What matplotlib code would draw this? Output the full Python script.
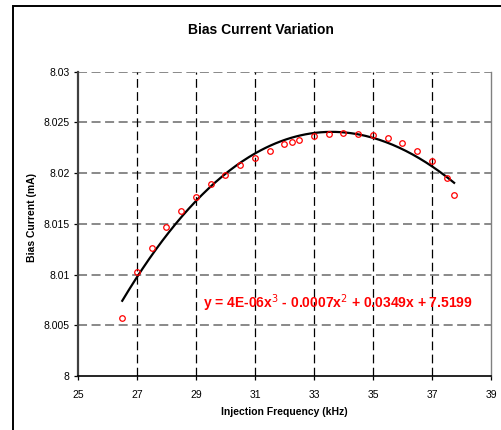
import numpy as np
import matplotlib
matplotlib.use("Agg")
import matplotlib.pyplot as plt
from matplotlib.patches import Rectangle

plt.rcParams['font.family'] = ['Liberation Sans', 'DejaVu Sans']

# measured points (kHz, mA)
freq_khz = [26.5, 27, 27.5, 28, 28.5, 29, 29.5, 30, 30.5, 31, 31.5, 32,
            32.25, 32.5, 33, 33.5, 34, 34.5, 35, 35.5, 36, 36.5, 37, 37.5, 37.75]
bias_ma = [8.0057, 8.0103, 8.0126, 8.0147, 8.0163, 8.0176, 8.0189, 8.0198,
           8.0208, 8.0215, 8.0222, 8.0229, 8.0231, 8.0233, 8.0237, 8.0239,
           8.0240, 8.0239, 8.0238, 8.0235, 8.0230, 8.0222, 8.0212, 8.0195, 8.0178]

x_ticks = [25, 27, 29, 31, 33, 35, 37, 39]
y_ticks = [8.0, 8.005, 8.01, 8.015, 8.02, 8.025, 8.03]
equation = r"y = 4E-06x$^3$ - 0.0007x$^2$ + 0.0349x + 7.5199"

W, H = 502, 430
fig = plt.figure(figsize=(W / 100, H / 100), dpi=100)

# outer chart border (cut off on right/bottom like the screenshot)
fig.patches.append(Rectangle((13 / W, -0.1), 1.2, 1.1 - 6.7 / H + 0.001,
                             transform=fig.transFigure, fill=False,
                             edgecolor="black", linewidth=1.4))

ax = fig.add_axes([78 / W, 1 - 376 / H, (491 - 78) / W, (376 - 71.7) / H])

# third order trendline, fitted like the spreadsheet did
coef = np.polyfit(freq_khz, bias_ma, 3)
xs = np.linspace(min(freq_khz), max(freq_khz), 200)
ax.plot(xs, np.polyval(coef, xs), color="black", linewidth=1.6, zorder=4)

ax.plot(freq_khz, bias_ma, linestyle="none", marker="o", markersize=4,
        markerfacecolor="none", markeredgecolor="red", markeredgewidth=0.9,
        zorder=5)

ax.set_xlim(25, 39)
ax.set_ylim(8.0, 8.03)
ax.set_xticks(x_ticks)
ax.set_yticks(y_ticks)
ax.set_yticklabels([f"{v:g}" for v in y_ticks])

# grid: gray dashes horizontal, black dashes vertical
for v in y_ticks[1:]:
    ax.axhline(v, color="#808080", linewidth=1.3, dashes=(5, 2.5), zorder=1)
for v in x_ticks[1:-1]:
    ax.axvline(v, color="black", linewidth=0.9, dashes=(7, 3.5), zorder=1)

ax.spines["top"].set_visible(False)
ax.spines["right"].set_color("#808080")
ax.spines["right"].set_linewidth(1.0)
ax.spines["left"].set_color("#404040")
ax.spines["left"].set_linewidth(1.6)
ax.spines["bottom"].set_color("black")
ax.spines["bottom"].set_linewidth(1.2)

ax.tick_params(axis="both", direction="out", length=3, width=0.9,
               labelsize=7.5, colors="black")
ax.tick_params(axis="x", pad=7)
ax.tick_params(axis="y", pad=3)

ax.text(338 / W, 1 - 303 / H, equation, transform=fig.transFigure,
        ha="center", va="center", color="red", fontsize=10,
        fontweight="bold")

fig.text(261 / W, 1 - 30 / H, "Bias Current Variation", ha="center",
         va="center", fontsize=10, fontweight="bold")
fig.text(284.5 / W, 1 - 411.7 / H, "Injection Frequency (kHz)", ha="center",
         va="center", fontsize=7.5, fontweight="bold")
fig.text(32 / W, 1 - 218 / H, "Bias Current (mA)", ha="center", va="center",
         rotation=90, fontsize=7.5, fontweight="bold")

fig.savefig("out.png", dpi=100)
